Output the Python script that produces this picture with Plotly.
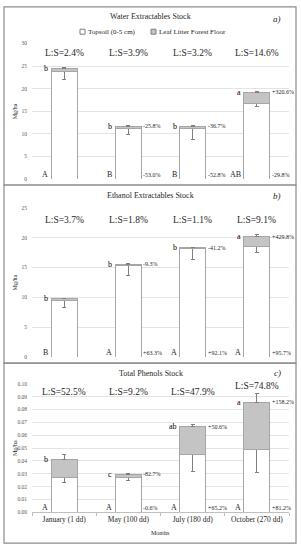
import plotly.graph_objects as go

W, H = 301, 550
months = ["January (1 dd)", "May (100 dd)", "July (180 dd)", "October (270 dd)"]

# Panel a: Water extractables stock (Mg/ha)
water_topsoil = [23.9, 11.3, 11.3, 16.8]
water_litter = [0.57, 0.44, 0.36, 2.45]
water_topsoil_err = [1.8, 1.5, 2.55, 0.8]
water_litter_err = [0.12, 0.1, 0.1, 0.2]
water_ls = ["L:S=2.4%", "L:S=3.9%", "L:S=3.2%", "L:S=14.6%"]
water_top_letters = ["b", "b", "b", "a"]
water_base_letters = ["A", "B", "B", "AB"]
water_litter_change = ["", "-25.8%", "-36.7%", "+320.6%"]
water_topsoil_change = ["", "-53.0%", "-52.8%", "-29.8%"]

# Panel b: Ethanol extractables stock (Mg/ha)
ethanol_topsoil = [9.4, 15.3, 18.1, 18.5]
ethanol_litter = [0.35, 0.28, 0.2, 1.68]
ethanol_topsoil_err = [1.1, 1.6, 1.7, 1.0]
ethanol_litter_err = [0.1, 0.1, 0.1, 0.3]
ethanol_ls = ["L:S=3.7%", "L:S=1.8%", "L:S=1.1%", "L:S=9.1%"]
ethanol_top_letters = ["b", "b", "b", "a"]
ethanol_base_letters = ["B", "A", "A", "A"]
ethanol_litter_change = ["", "-9.3%", "-41.2%", "+429.8%"]
ethanol_topsoil_change = ["", "+63.3%", "+92.1%", "+95.7%"]

# Panel c: Total phenols stock (Mg/ha)
phenols_topsoil = [0.027, 0.027, 0.045, 0.049]
phenols_litter = [0.0142, 0.0025, 0.0216, 0.0367]
phenols_topsoil_err = [0.004, 0.0025, 0.013, 0.018]
phenols_litter_err = [0.0035, 0.0008, 0.0015, 0.0066]
phenols_ls = ["L:S=52.5%", "L:S=9.2%", "L:S=47.9%", "L:S=74.8%"]
phenols_top_letters = ["b", "c", "ab", "a"]
phenols_base_letters = ["A", "A", "A", "A"]
phenols_litter_change = ["", "-82.7%", "+50.6%", "+158.2%"]
phenols_topsoil_change = ["", "-0.6%", "+65.2%", "+81.2%"]

titles = ["Water Extractables Stock", "Ethanol Extractables Stock", "Total Phenols Stock"]
corner = ["a)", "b)", "c)"]

FONT = "Liberation Serif"
TXT = "#262626"
EDGE = "#a6a6a6"
LITTER = "#c4c4c4"
ERR = "#7f7f7f"
BW = 0.405


def py(y):
    return 1 - y / H


def px(x):
    return x / W


panels = [
    dict(top=water_topsoil, lit=water_litter, te=water_topsoil_err, le=water_litter_err,
         ls=water_ls, tl=water_top_letters, bl=water_base_letters,
         lc=water_litter_change, tc=water_topsoil_change,
         rng=[0, 30], dtick=5, fmt="d", ls_y=[28, 28, 28, 28], dom=(41, 178),
         title_y=14, corner_y=16),
    dict(top=ethanol_topsoil, lit=ethanol_litter, te=ethanol_topsoil_err, le=ethanol_litter_err,
         ls=ethanol_ls, tl=ethanol_top_letters, bl=ethanol_base_letters,
         lc=ethanol_litter_change, tc=ethanol_topsoil_change,
         rng=[0, 25], dtick=5, fmt="d", ls_y=[23, 23, 23, 23], dom=(207, 358),
         title_y=195, corner_y=195),
    dict(top=phenols_topsoil, lit=phenols_litter, te=phenols_topsoil_err, le=phenols_litter_err,
         ls=phenols_ls, tl=phenols_top_letters, bl=phenols_base_letters,
         lc=phenols_litter_change, tc=phenols_topsoil_change,
         rng=[0, 0.1], dtick=0.01, fmt=".2f", ls_y=[0.094, 0.094, 0.094, 0.0985], dom=(385, 515),
         title_y=375, corner_y=374),
]

fig = go.Figure()
annotations = []
shapes = []
layout = {}

for k, p in enumerate(panels):
    sfx = "" if k == 0 else str(k + 1)
    xa, ya = "x" + sfx, "y" + sfx
    fig.add_trace(go.Bar(
        x=months, y=p["top"], xaxis=xa, yaxis=ya, width=BW,
        name="Topsoil (0-5 cm)", showlegend=False, hoverinfo="skip",
        marker=dict(color="white", line=dict(color=EDGE, width=1)),
        error_y=dict(type="data", symmetric=False, array=[0] * 4, arrayminus=p["te"],
                     color=ERR, thickness=1, width=2)))
    fig.add_trace(go.Bar(
        x=months, y=p["lit"], xaxis=xa, yaxis=ya, width=BW,
        name="Leaf Litter Forest Floor", showlegend=False, hoverinfo="skip",
        marker=dict(color=LITTER, line=dict(color=EDGE, width=1)),
        error_y=dict(type="data", symmetric=False, array=p["le"], arrayminus=[0] * 4,
                     color=ERR, thickness=1, width=2)))

    last = k == 2
    layout["xaxis" + sfx] = dict(
        domain=[px(32), px(289)], anchor=ya, type="category", range=[-0.5, 3.5],
        showgrid=False, zeroline=False,
        showticklabels=last, showline=last, linecolor="#bfbfbf", linewidth=1,
        ticks="outside" if last else "", tickson="boundaries", ticklen=3, tickcolor="#bfbfbf",
        tickfont=dict(family=FONT, size=7.5, color=TXT),
    )
    layout["yaxis" + sfx] = dict(
        domain=[py(p["dom"][1]), py(p["dom"][0])], anchor=xa, range=p["rng"],
        dtick=p["dtick"], tick0=0, tickformat=p["fmt"], showgrid=True,
        gridcolor="#e3e3e3", gridwidth=1, zeroline=False, showline=False,
        ticks="", ticklabelstandoff=4,
        tickfont=dict(family=FONT, size=5.5, color="#595959"),
    )

    # Panel text
    annotations.append(dict(xref="paper", yref="paper", x=0.5, y=py(p["title_y"]),
                            text=titles[k], showarrow=False, xanchor="center", yanchor="middle",
                            font=dict(family=FONT, size=8, color=TXT)))
    annotations.append(dict(xref="paper", yref="paper", x=px(283), y=py(p["corner_y"]),
                            text="<i>" + corner[k] + "</i>", showarrow=False, xanchor="right",
                            yanchor="middle", font=dict(family=FONT, size=9, color=TXT)))
    mid = (p["dom"][0] + p["dom"][1]) / 2
    annotations.append(dict(xref="paper", yref="paper", x=px(15), y=py(mid),
                            text="Mg/ha", showarrow=False, textangle=-90,
                            xanchor="center", yanchor="middle",
                            font=dict(family=FONT, size=6, color=TXT)))

    for j in range(4):
        total = p["top"][j] + p["lit"][j]
        annotations.append(dict(xref=xa, yref=ya, x=j, y=p["ls_y"][j], text=p["ls"][j],
                                showarrow=False, xanchor="center", yanchor="middle",
                                font=dict(family=FONT, size=9.5, color=TXT)))
        annotations.append(dict(xref=xa, yref=ya, x=j - BW / 2, y=total, text=p["tl"][j],
                                showarrow=False, xanchor="right", yanchor="middle", xshift=-1,
                                font=dict(family=FONT, size=8, color="#000000")))
        annotations.append(dict(xref=xa, yref=ya, x=j - BW / 2, y=0, text=p["bl"][j],
                                showarrow=False, xanchor="right", yanchor="bottom", xshift=-1,
                                yshift=-2, font=dict(family=FONT, size=8, color=TXT)))
        if p["lc"][j]:
            annotations.append(dict(xref=xa, yref=ya, x=j + BW / 2, y=total, text=p["lc"][j],
                                    showarrow=False, xanchor="left", yanchor="middle",
                                    font=dict(family=FONT, size=6, color=TXT)))
        if p["tc"][j]:
            annotations.append(dict(xref=xa, yref=ya, x=j + BW / 2, y=0, text=p["tc"][j],
                                    showarrow=False, xanchor="left", yanchor="bottom",
                                    yshift=-1, font=dict(family=FONT, size=6, color=TXT)))

# x-axis title for bottom panel
annotations.append(dict(xref="paper", yref="paper", x=px(161), y=py(536), text="Months",
                        showarrow=False, xanchor="center", yanchor="middle",
                        font=dict(family=FONT, size=6, color=TXT)))

# legend (panel a)
annotations.append(dict(xref="paper", yref="paper", x=px(86), y=py(29),
                        text="Topsoil (0-5 cm)", showarrow=False, xanchor="left",
                        yanchor="middle", font=dict(family=FONT, size=7, color=TXT)))
annotations.append(dict(xref="paper", yref="paper", x=px(157), y=py(29),
                        text="Leaf Litter Forest Floor", showarrow=False, xanchor="left",
                        yanchor="middle", font=dict(family=FONT, size=7, color=TXT)))
shapes.append(dict(type="rect", xref="paper", yref="paper", x0=px(80), x1=px(85),
                   y0=py(31.5), y1=py(26.5), fillcolor="white", line=dict(color="#7f7f7f", width=1)))
shapes.append(dict(type="rect", xref="paper", yref="paper", x0=px(151), x1=px(156),
                   y0=py(31.5), y1=py(26.5), fillcolor=LITTER, line=dict(color="#7f7f7f", width=1)))

# panel borders
for (t, b) in [(4, 184), (184, 364), (364, 546)]:
    shapes.append(dict(type="rect", xref="paper", yref="paper", x0=px(4), x1=px(296),
                       y0=py(b), y1=py(t), line=dict(color="#8c8c8c", width=1.2),
                       fillcolor="rgba(0,0,0,0)", layer="above"))

fig.update_layout(
    width=W, height=H, autosize=False,
    margin=dict(l=0, r=0, t=0, b=0),
    paper_bgcolor="white", plot_bgcolor="white",
    barmode="stack", showlegend=False,
    annotations=annotations, shapes=shapes,
    **layout,
)

fig.write_html(
    "out.html",
    config={"displayModeBar": False},
    post_script="document.body.style.margin='0';document.body.style.overflow='hidden';",
)
